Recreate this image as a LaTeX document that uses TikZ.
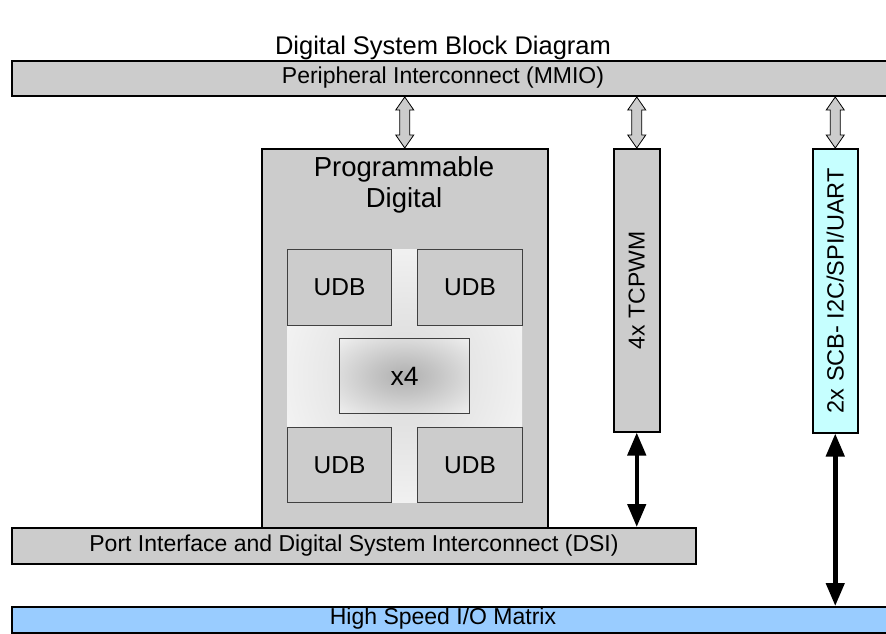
\documentclass[tikz,border=0pt]{standalone}
\usepackage{fontspec}
\setmainfont{Liberation Sans}
\usetikzlibrary{arrows.meta,calc}
\definecolor{bargray}{HTML}{CCCCCC}
\definecolor{scbcyan}{HTML}{C6FFFF}
\definecolor{iocolor}{HTML}{99CCFF}
\definecolor{shadeA}{HTML}{B0B0B0}
\definecolor{shadeB}{HTML}{C4C4C4}
\definecolor{shadeC}{HTML}{DADADA}
\definecolor{shadeD}{HTML}{E6E6E6}
\pgfdeclareradialshading{xfourshade}{\pgfpoint{0bp}{0bp}}{color(0bp)=(shadeA); color(12bp)=(shadeB); color(44bp)=(white); color(50bp)=(white)}
\pgfdeclareradialshading{coreshade}{\pgfpoint{0bp}{0bp}}{color(0bp)=(shadeC); color(14bp)=(shadeD); color(40bp)=(white); color(50bp)=(white)}
\newcommand\hollowarrow[2]{%
  \draw[hollow] (#1) -- ++(9,13) -- ++(-4,0) -- ($(#2)+(5,-13)$) -- ++(4,0) -- (#2)
    -- ++(-9,-13) -- ++(4,0) -- ($(#1)+(-5,13)$) -- ++(-4,0) -- cycle;}
\begin{document}
\begin{tikzpicture}[x=1pt,y=-1pt,
  box/.style={draw=black, line width=1.5pt, fill=bargray, inner sep=0pt, anchor=north west},
  bar/.style={box, line width=2pt},
  udb/.style={draw=black!75, line width=1pt, fill=bargray, inner sep=0pt, anchor=north west, font=\fontsize{24.5}{27}\selectfont},
  lbl/.style={font=\fontsize{23}{27}\selectfont},
  hollow/.style={draw=black, line width=0.8pt, fill=bargray, line join=miter},
  solidarr/.style={line width=4.5pt, {Triangle[width=18pt,length=23pt]}-{Triangle[width=18pt,length=23pt]}}]
\useasboundingbox (0,0) rectangle (886,634);
\clip (0,0) rectangle (886,634);
\fill[white] (0,0) rectangle (886,634);

\node[font=\fontsize{25.5}{29}\selectfont] (title) at (443,48) {Digital System Block Diagram};

% top bar
\node[bar, minimum width=879pt, minimum height=35pt] (mmio) at (11,60) {};
\node[lbl] (mmiotext) at (443,77.5) {Peripheral Interconnect (MMIO)};

% programmable digital
\node[box, minimum width=286pt, minimum height=380pt] (pd) at (261,148) {};
\node[font=\fontsize{27.5}{31}\selectfont, align=center, anchor=north] (pdtext) at (404,153) {Programmable\\Digital};
\node[anchor=north west, inner sep=0pt, minimum width=235pt, minimum height=253pt, shade, shading=coreshade] (core) at (287,249) {};
\node[udb, minimum width=104pt, minimum height=76pt] (udb1) at (287,249) {UDB};
\node[udb, minimum width=105pt, minimum height=76pt] (udb2) at (417,249) {UDB};
\node[udb, minimum width=104pt, minimum height=75pt] (udb3) at (287,427) {UDB};
\node[udb, minimum width=105pt, minimum height=75pt] (udb4) at (417,427) {UDB};
\node[anchor=north west, inner sep=0pt, minimum width=130pt, minimum height=75pt, shade, shading=xfourshade, draw=black!75, line width=1pt, font=\fontsize{26.5}{29}\selectfont] (x4) at (339,338) {x4};

% TCPWM and SCB
\node[box, minimum width=46pt, minimum height=283pt] (tcpwm) at (613,148) {};
\node[lbl, rotate=90] (tcpwmtext) at (tcpwm.center) {4x TCPWM};
\node[box, fill=scbcyan, minimum width=45pt, minimum height=284pt] (scb) at (812,148) {};
\node[lbl, font=\fontsize{23.5}{27}\selectfont, rotate=90] (scbtext) at (scb.center) {2x SCB- I2C/SPI/UART};

% DSI bar
\node[bar, minimum width=684pt, minimum height=36pt] (dsi) at (11,527) {};
\node[lbl] (dsitext) at (dsi.center) {Port Interface and Digital System Interconnect (DSI)};

% High speed IO
\node[bar, fill=iocolor, minimum width=879pt, minimum height=26pt] (hsio) at (11,606) {};
\node[lbl] (hsiotext) at (443,619) {High Speed I/O Matrix};

% hollow arrows
\coordinate (h1t) at (mmio.south -| pd.north);
\coordinate (h2t) at (mmio.south -| tcpwm.north);
\coordinate (h3t) at (mmio.south -| scb.north);
\hollowarrow{h1t}{pd.north}
\hollowarrow{h2t}{tcpwm.north}
\hollowarrow{h3t}{scb.north}

% solid arrows
\draw[solidarr] (tcpwm.south) -- (tcpwm.south |- dsi.north);
\draw[solidarr] (scb.south) -- (scb.south |- hsio.north);
\end{tikzpicture}
\end{document}
